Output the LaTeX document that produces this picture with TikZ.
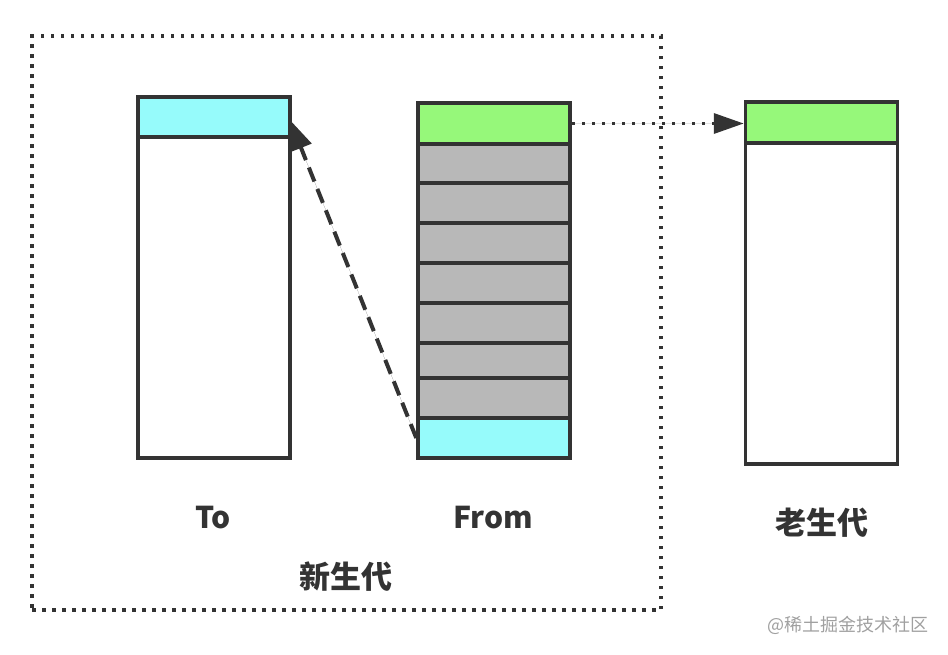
\documentclass[tikz,border=0pt]{standalone}
\usepackage{fontspec}
\setmainfont{Noto Sans CJK SC}
\usetikzlibrary{arrows.meta}
\definecolor{ink}{HTML}{333333}
\definecolor{cyanfill}{HTML}{96FBFB}
\definecolor{greenfill}{HTML}{96F87A}
\definecolor{greyfill}{HTML}{B8B8B8}
\definecolor{wm}{HTML}{A0A0A0}
\tikzset{
  cell/.style={draw=ink, line width=3.5pt, rectangle, inner sep=0pt, minimum width=152pt},
  lbl/.style={text=ink, font=\fontsize{30}{32}\selectfont\bfseries, inner sep=0pt},
  cjklbl/.style={text=ink, font=\fontsize{31}{33}\selectfont\bfseries, inner sep=0pt},
  dotline/.style={draw=ink, line width=3.5pt, dash pattern=on 3.5pt off 6.5pt},
}
\begin{document}
\begin{tikzpicture}[x=1pt,y=-1pt]
\useasboundingbox (0,0) rectangle (948,654);
% new generation dotted frame
\node[dotline, rectangle, inner sep=0pt, minimum width=629pt, minimum height=574pt] (newgen) at (346.5,323) {};
% From column
\node[cell, fill=greenfill, minimum height=41pt] (fg) at (494,123.5) {};
\node[cell, fill=greyfill, minimum height=39pt] (f1) at (494,163.5) {};
\node[cell, fill=greyfill, minimum height=40pt] (f2) at (494,203) {};
\node[cell, fill=greyfill, minimum height=40pt] (f3) at (494,243) {};
\node[cell, fill=greyfill, minimum height=40pt] (f4) at (494,283) {};
\node[cell, fill=greyfill, minimum height=40pt] (f5) at (494,323) {};
\node[cell, fill=greyfill, minimum height=35pt] (f6) at (494,360.5) {};
\node[cell, fill=greyfill, minimum height=40pt] (f7) at (494,398) {};
\node[cell, fill=cyanfill, minimum height=40pt] (fc) at (494,438) {};
% copy arrow From -> To (drawn first so the To column covers part of its head)
\coordinate (tip) at (290,120);
\draw[draw=ink, fill=ink, line width=4pt, dash pattern=on 15pt off 8pt,
      -{Triangle[length=30pt,width=22pt]}] (fc.west) -- (tip);
% To column
\node[cell, fill=cyanfill, minimum height=40pt] (th) at (214,117) {};
\node[cell, fill=white, minimum height=321pt] (tb) at (214,297.5) {};
% Old generation column
\node[cell, fill=greenfill, minimum height=41pt] (og) at (821.5,122.5) {};
\node[cell, fill=white, minimum height=321pt] (ob) at (821.5,303.5) {};
% promotion arrow
\draw[dotline, fill=ink, -{Triangle[length=30pt,width=20pt,sep=0pt]}] (fg.east) -- (fg.east -| og.west);
% labels
\node[lbl] (lto) at (213,518) {To};
\node[lbl] (lfrom) at (493,518) {From};
\node[cjklbl] (lnew) at (346,577) {新生代};
\node[cjklbl] (lold) at (822,523) {老生代};
\node[text=wm, font=\fontsize{18}{20}\selectfont, inner sep=0pt] (mark) at (848,625) {@稀土掘金技术社区};
\end{tikzpicture}
\end{document}
